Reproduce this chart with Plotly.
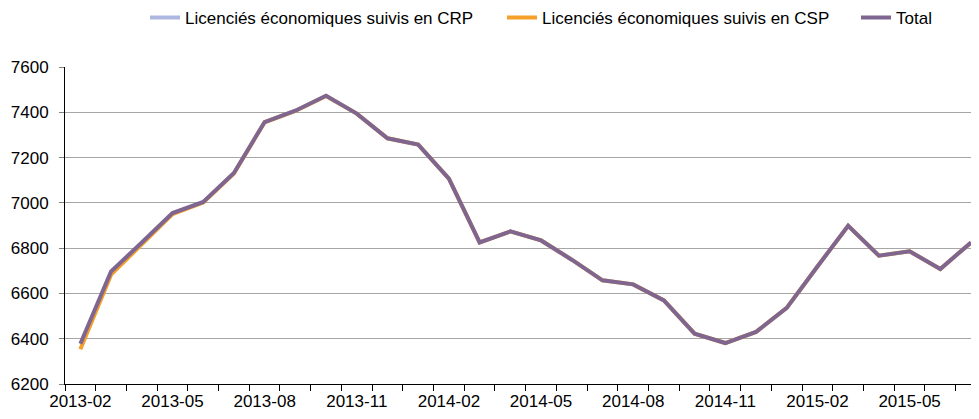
import plotly.graph_objects as go

months = ["2013-02", "2013-03", "2013-04", "2013-05", "2013-06", "2013-07",
          "2013-08", "2013-09", "2013-10", "2013-11", "2013-12", "2014-01",
          "2014-02", "2014-03", "2014-04", "2014-05", "2014-06", "2014-07",
          "2014-08", "2014-09", "2014-10", "2014-11", "2014-12", "2015-01",
          "2015-02", "2015-03", "2015-04", "2015-05", "2015-06", "2015-07"]

# CRP numbers are tiny by then, so they sit below the visible range
crp = [25, 14, 8, 5, 3, 2, 1, 1, 1, 0, 0, 0, 0, 0, 0,
       0, 0, 0, 0, 0, 0, 0, 0, 0, 0, 0, 0, 0, 0, 0]
csp = [6353, 6683, 6817, 6950, 7001, 7130, 7356, 7406, 7472, 7394, 7285, 7257, 7107, 6825, 6874,
       6834, 6749, 6658, 6640, 6569, 6422, 6381, 6430, 6536, 6719, 6899, 6767, 6786, 6708, 6825]
total = [6378, 6697, 6825, 6955, 7004, 7132, 7357, 7407, 7473, 7394, 7285, 7257, 7107, 6825, 6874,
         6834, 6749, 6658, 6640, 6569, 6422, 6381, 6430, 6536, 6719, 6899, 6767, 6786, 6708, 6825]

tick_pos = list(range(0, len(months), 3))
tick_text = [months[i] for i in tick_pos]
x = list(range(len(months)))

fig = go.Figure()
fig.add_trace(go.Scatter(x=x, y=crp, mode="lines", name="Licenciés économiques suivis en CRP",
                         line=dict(color="#AEB7DF", width=4), legend="legend"))
fig.add_trace(go.Scatter(x=x, y=csp, mode="lines", name="Licenciés économiques suivis en CSP",
                         line=dict(color="#F5A029", width=4), legend="legend2"))
fig.add_trace(go.Scatter(x=x, y=total, mode="lines", name="Total",
                         line=dict(color="#7F6690", width=4), legend="legend3"))

# page body has an 8px margin, so the figure is 8px smaller than the window
W, H = 971, 411
L, T = 57, 59
plot_w = W - L

# one legend per entry so the spacing can follow the original
leg = dict(orientation="h", xanchor="left", y=1.155, yanchor="middle",
           font=dict(size=17), bgcolor="rgba(0,0,0,0)")

fig.update_layout(
    width=W, height=H,
    margin=dict(l=L, r=0, t=T, b=35, autoexpand=False),
    paper_bgcolor="white", plot_bgcolor="white",
    font=dict(family="Liberation Sans, Arial", size=17, color="black"),
    showlegend=True,
    legend=dict(leg, x=(145 - 65) / plot_w),
    legend2=dict(leg, x=(502 - 65) / plot_w),
    legend3=dict(leg, x=(856 - 65) / plot_w),
)
fig.update_xaxes(
    range=[-0.5, 29.26], tickmode="array", tickvals=tick_pos, ticktext=tick_text,
    ticks="", showgrid=False, zeroline=False, ticklabelstandoff=2,
    showline=True, linecolor="black", linewidth=1,
    minor=dict(ticks="outside", tick0=-0.5, dtick=1, ticklen=6, tickcolor="black", showgrid=False),
)
fig.update_yaxes(
    range=[6200, 7600], dtick=200, showgrid=True, gridcolor="#A6A6A6", gridwidth=1,
    zeroline=False, showline=True, linecolor="black", linewidth=1,
    ticks="outside", ticklen=5, tickcolor="#808080", ticklabelstandoff=7,
)

fig.write_html("out.html")
